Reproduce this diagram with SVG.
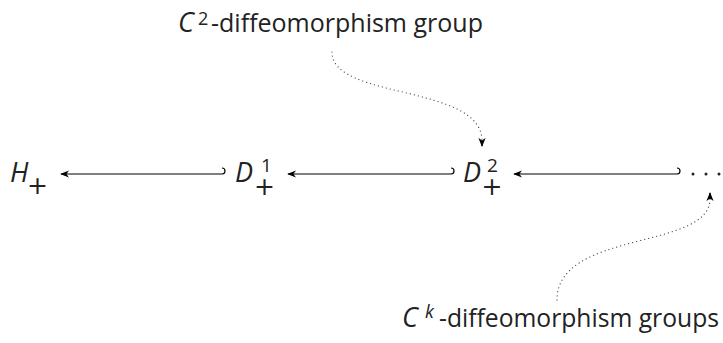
<svg xmlns="http://www.w3.org/2000/svg" width="723" height="343" viewBox="0 0 723 343">
<defs>
<style>
.t{font-family:"Open Sans","Liberation Sans",sans-serif;font-size:25px;fill:#222}
.m{font-family:"Open Sans","Liberation Sans",sans-serif;font-size:27px;font-style:italic;fill:#222}
.c{font-family:"Open Sans","Liberation Sans",sans-serif;font-size:27px;font-style:italic;fill:#222}
.s{font-family:"Open Sans","Liberation Sans",sans-serif;font-size:18px;fill:#222}
.sup{font-family:"Open Sans","Liberation Sans",sans-serif;font-size:19px;font-style:normal}
.pl{font-family:"DejaVu Sans",sans-serif;font-size:25px;font-style:normal}
.ln{fill:none;stroke:#000;stroke-width:1.2}
.dot{fill:none;stroke:#444;stroke-width:1.2;stroke-dasharray:0.1 4;stroke-linecap:round}
</style>
<marker id="ah" viewBox="0 0 10 10" refX="9" refY="5" markerWidth="9" markerHeight="9" markerUnits="userSpaceOnUse" orient="auto">
<path d="M0,1 L10,5 L0,9 L3,5 Z" fill="#000"/>
</marker>
</defs>
<rect width="723" height="343" fill="#fff"/>
<g id="connectors">
<path class="ln" d="M222,174 L61,174" marker-end="url(#ah)"/>
<path class="ln" d="M222,174 A3,3 0 0 0 222,168"/>
<path class="ln" d="M451,174 L288,174" marker-end="url(#ah)"/>
<path class="ln" d="M451,174 A3,3 0 0 0 451,168"/>
<path class="ln" d="M677,174 L514,174" marker-end="url(#ah)"/>
<path class="ln" d="M677,174 A3,3 0 0 0 677,168"/>
<path class="dot" d="M332,52 C332,100 482,84 482,141"/>
<path class="ln" d="M482,141 L482,146" stroke-width="0.1" marker-end="url(#ah)"/>
<path class="dot" d="M557,300 C557,230 710,250 710,199"/>
<path class="ln" d="M710,199 L710,193" stroke-width="0.1" marker-end="url(#ah)"/>
</g>
<g id="top-label">
<text class="c" x="178" y="32">C</text>
<text class="s" x="198" y="25">2</text>
<text class="t" x="211" y="32" textLength="272" lengthAdjust="spacingAndGlyphs">-diffeomorphism group</text>
</g>
<g id="H">
<text class="m" x="10" y="182">H<tspan class="pl" x="27" y="194">+</tspan></text>
</g>
<g id="D1">
<text class="m" x="235" y="182">D<tspan class="sup" x="261" y="172">1</tspan><tspan class="pl" x="254" y="195">+</tspan></text>
</g>
<g id="D2">
<text class="m" x="463" y="182">D<tspan class="sup" x="487" y="172">2</tspan><tspan class="pl" x="481.5" y="195">+</tspan></text>
</g>
<g id="dots">
<circle cx="693" cy="174" r="1.5" fill="#222"/>
<circle cx="706" cy="174" r="1.5" fill="#222"/>
<circle cx="719" cy="174" r="1.5" fill="#222"/>
</g>
<g id="bottom-label">
<text class="c" x="402" y="327">C</text>
<text class="s" x="425" y="318" font-style="italic">k</text>
<text class="t" x="439" y="327" textLength="280" lengthAdjust="spacingAndGlyphs">-diffeomorphism groups</text>
</g>
</svg>
